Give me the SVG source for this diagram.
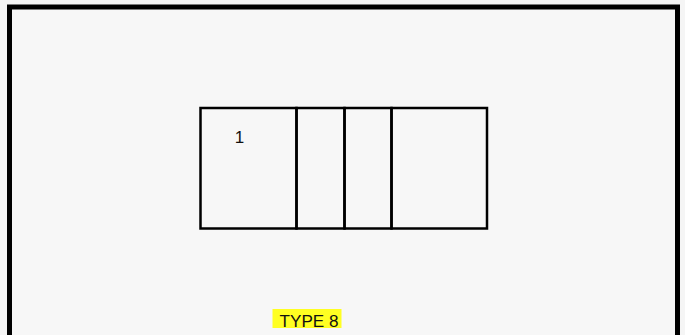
<svg xmlns="http://www.w3.org/2000/svg" width="685" height="335" viewBox="0 0 685 335">
<style>
.frame{fill:#f7f7f7;stroke:#000;stroke-width:5}
.box{fill:none;stroke:#000;stroke-width:2.5}
.lbl{font-family:"Liberation Sans",Arial,sans-serif;fill:#111}
</style>
<rect x="0" y="0" width="685" height="335" fill="#f5f5f5"/>
<rect class="frame" x="9.5" y="7" width="668" height="340"/>
<g id="node-1">
<rect class="box" x="200.5" y="108" width="96" height="120.5"/>
<text class="lbl" x="239.5" y="142.5" font-size="17" text-anchor="middle">1</text>
</g>
<g id="node-2"><rect class="box" x="296.5" y="108" width="48" height="120.5"/></g>
<g id="node-3"><rect class="box" x="344.5" y="108" width="47" height="120.5"/></g>
<g id="node-4"><rect class="box" x="391.5" y="108" width="95.5" height="120.5"/></g>
<g id="connectors"></g>
<g id="type-label">
<rect x="272.5" y="309" width="69" height="19" fill="#ffff22"/>
<text class="lbl" x="279.5" y="326.5" font-size="16" textLength="59" lengthAdjust="spacingAndGlyphs">TYPE 8</text>
</g>
</svg>
